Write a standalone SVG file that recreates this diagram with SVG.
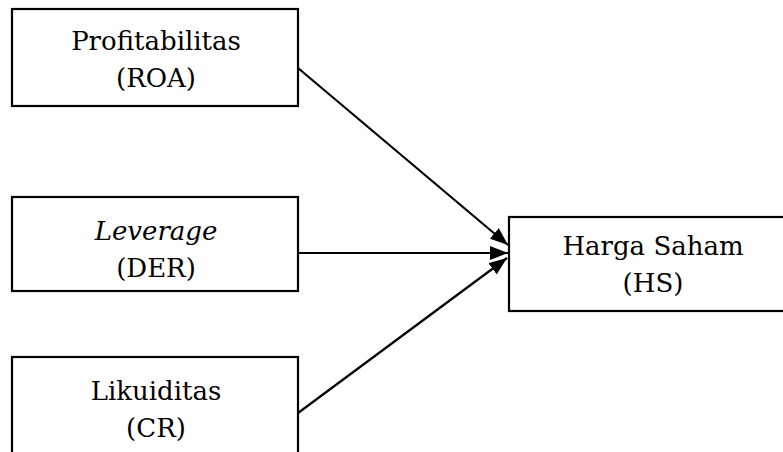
<svg xmlns="http://www.w3.org/2000/svg" width="783" height="452" viewBox="0 0 783 452">
<style>
.box{fill:#fff;stroke:#000;stroke-width:2.2}
.t{font-family:"DejaVu Serif","Liberation Serif",serif;font-size:26px;fill:#000;text-anchor:middle}
.i{font-style:italic}
.c{stroke:#000;stroke-width:2.2;fill:none}
</style>
<defs>
<marker id="ah" markerWidth="18" markerHeight="14" refX="18" refY="7" orient="auto" markerUnits="userSpaceOnUse" viewBox="0 0 18 14">
<path d="M0,0 L18,7 L0,14 z" fill="#000"/>
</marker>
</defs>
<rect width="783" height="452" fill="#fff"/>
<g id="n1">
<rect class="box" x="12" y="9" width="286" height="97"/>
<text class="t" x="156" y="50">Profitabilitas</text>
<text class="t" x="156" y="87">(ROA)</text>
</g>
<g id="n2">
<rect class="box" x="12" y="197" width="286" height="94"/>
<text class="t i" x="156" y="240">Leverage</text>
<text class="t" x="156" y="277">(DER)</text>
</g>
<g id="n3">
<rect class="box" x="12" y="357" width="286" height="110"/>
<text class="t" x="156" y="400">Likuiditas</text>
<text class="t" x="156" y="437">(CR)</text>
</g>
<g id="n4">
<rect class="box" x="509" y="217" width="288" height="94"/>
<text class="t" x="653" y="255">Harga Saham</text>
<text class="t" x="653" y="292">(HS)</text>
</g>
<g id="connectors">
<line class="c" x1="298" y1="68" x2="508" y2="245" marker-end="url(#ah)"/>
<line class="c" x1="298" y1="253" x2="508" y2="253" marker-end="url(#ah)"/>
<line class="c" x1="298" y1="413" x2="507" y2="258" marker-end="url(#ah)"/>
</g>
</svg>
